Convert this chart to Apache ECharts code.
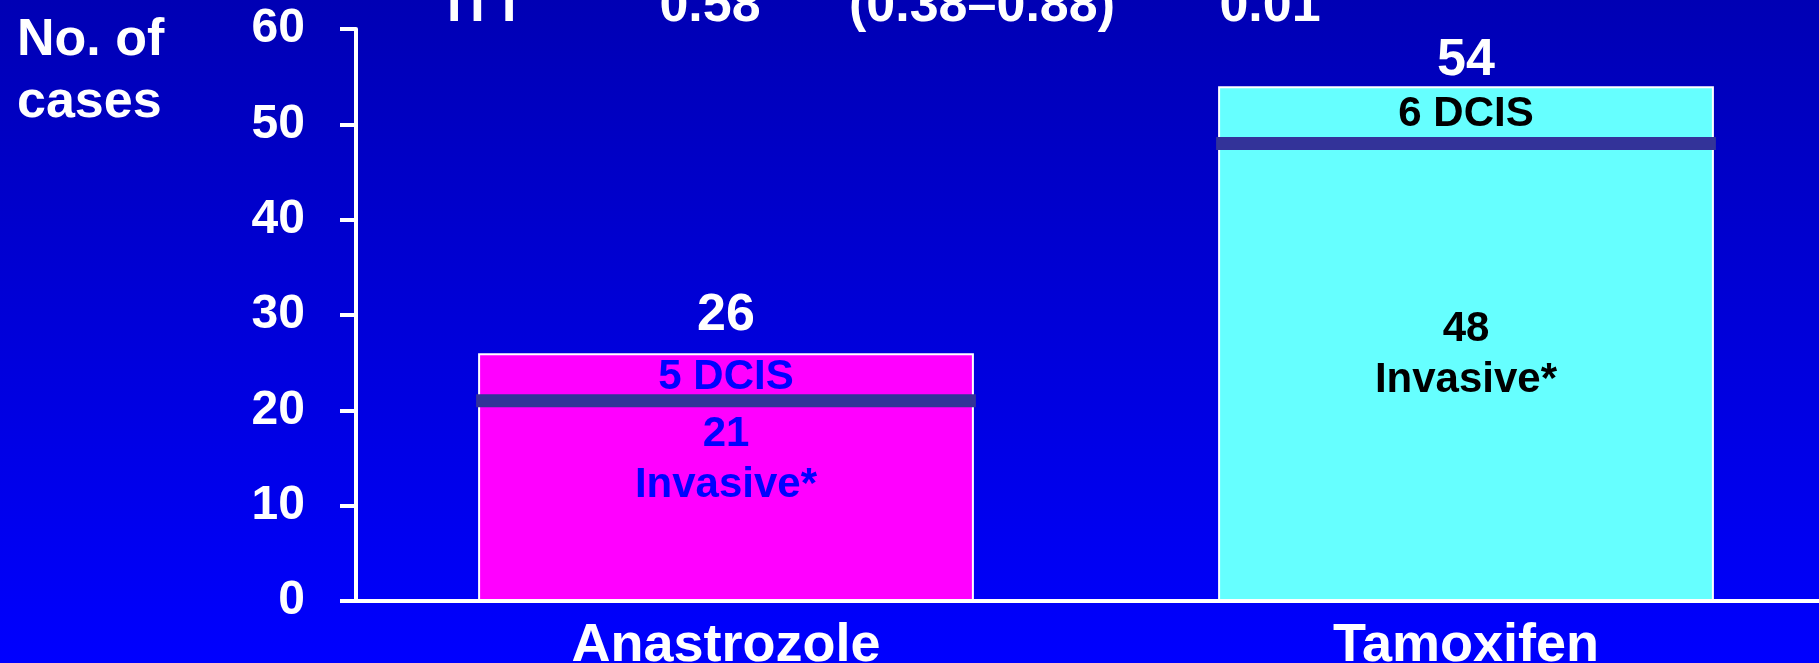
<!DOCTYPE html>
<html>
<head>
<meta charset="utf-8">
<script src="https://cdn.jsdelivr.net/npm/echarts@6/dist/echarts.min.js"></script>
<style>
  html, body { margin: 0; padding: 0; }
  #chart { width: 1819px; height: 663px; }
</style>
</head>
<body>
<div id="chart"></div>
<script>
// data
const categories = ['Anastrozole', 'Tamoxifen'];
const invasive = [21, 48];
const dcis = [5, 6];
const totals = [26, 54];
const headerLabels = ['ITT', '0.58', '(0.38\u20130.88)', '0.01'];

const FONT = '"Liberation Sans", Arial, sans-serif';
const barColors = ['#ff00ff', '#66ffff'];
const labelColors = ['#0000ff', '#000000'];
const invasiveOffset = [-41, -17]; // labels sit above the middle of the segment
const totalGap = [11, 0];

const chart = echarts.init(document.getElementById('chart'));

const headerX = [486, 710, 982, 1270];

chart.setOption({
  backgroundColor: {
    type: 'linear', x: 0, y: 0, x2: 0, y2: 1,
    colorStops: [
      { offset: 0, color: '#0000b4' },
      { offset: 1, color: '#0000ff' }
    ]
  },
  animation: false,
  // plot runs past the right edge of the slide
  grid: { left: 356, width: 1480, top: 29, bottom: 62, outerBoundsMode: 'none' },
  graphic: [
    {
      type: 'text', left: 17, top: 10,
      style: { text: 'No. of\ncases', fill: '#fff', font: 'bold 52px ' + FONT, lineHeight: 62 }
    }
  ].concat(headerLabels.map((t, i) => ({
    type: 'text', x: headerX[i], y: 7,
    style: { text: t, fill: '#fff', font: 'bold 52px ' + FONT, align: 'center', verticalAlign: 'middle' }
  }))),
  xAxis: {
    type: 'category',
    data: categories,
    axisLine: { lineStyle: { color: '#fff', width: 4 } },
    axisTick: { show: false },
    axisLabel: { color: '#fff', fontSize: 54, fontWeight: 'bold', fontFamily: FONT, margin: 18 }
  },
  yAxis: {
    type: 'value',
    min: 0,
    max: 60,
    interval: 10,
    axisLine: { show: true, lineStyle: { color: '#fff', width: 4 } },
    axisTick: { show: true, length: 16, lineStyle: { color: '#fff', width: 4 } },
    splitLine: { show: false },
    axisLabel: { color: '#fff', fontSize: 48, fontWeight: 'bold', fontFamily: FONT, margin: 51 }
  },
  series: [
    {
      name: 'Invasive',
      type: 'bar',
      stack: 'cases',
      barWidth: '67%',
      data: invasive.map((v, i) => ({
        value: v,
        itemStyle: { color: barColors[i], borderColor: '#fff', borderWidth: 2 },
        label: {
          show: true, position: 'inside', offset: [0, invasiveOffset[i]],
          formatter: '{c}\nInvasive*', color: labelColors[i],
          fontSize: 42, fontWeight: 'bold', fontFamily: FONT, lineHeight: 51
        }
      }))
    },
    {
      name: 'DCIS',
      type: 'bar',
      stack: 'cases',
      barWidth: '67%',
      data: dcis.map((v, i) => ({
        value: v,
        itemStyle: { color: barColors[i], borderColor: '#fff', borderWidth: 2 },
        label: {
          show: true, position: 'inside',
          formatter: '{c} DCIS', color: labelColors[i],
          fontSize: 42, fontWeight: 'bold', fontFamily: FONT
        }
      }))
    },
    {
      // divider between invasive and DCIS, plus total above each bar
      name: 'divider',
      type: 'custom',
      z: 5,
      data: categories.map((c, i) => [i, invasive[i], totals[i]]),
      renderItem: function (params, api) {
        const i = params.dataIndex;
        const mid = api.coord([api.value(0), api.value(1)]);
        const top = api.coord([api.value(0), api.value(2)]);
        const w = api.size([1, 0])[0] * 0.67 + 4;
        return {
          type: 'group',
          children: [
            {
              type: 'rect',
              shape: { x: mid[0] - w / 2, y: mid[1] - 6.5, width: w, height: 13 },
              style: { fill: '#333399' }
            },
            {
              type: 'text',
              x: top[0], y: top[1] - totalGap[i],
              style: {
                text: String(api.value(2)), fill: '#fff',
                font: 'bold 52px ' + FONT, align: 'center', verticalAlign: 'bottom'
              }
            }
          ]
        };
      }
    }
  ]
});
</script>
</body>
</html>
